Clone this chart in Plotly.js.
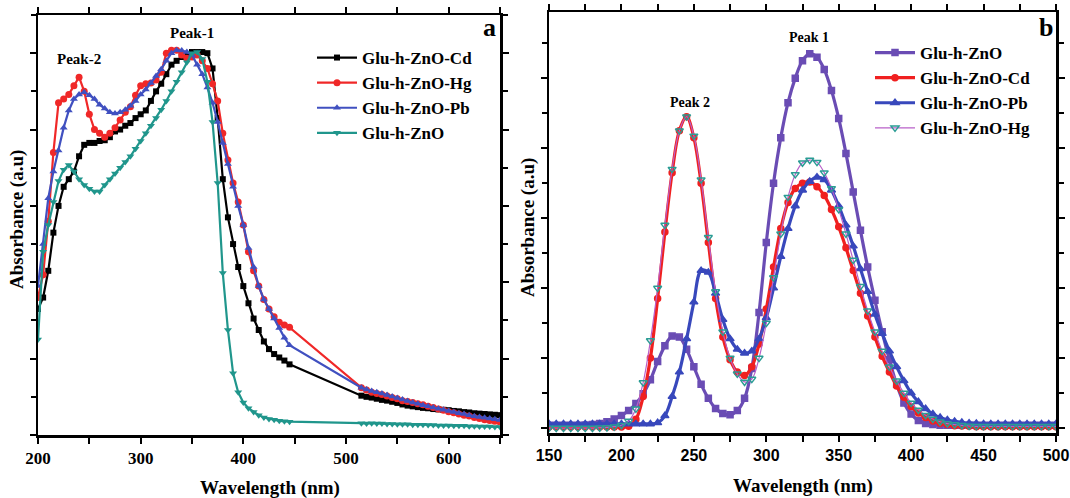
<!DOCTYPE html>
<html>
<head>
<meta charset="utf-8">
<script src="https://cdn.plot.ly/plotly-3.0.1.min.js"></script>
<style>
  html, body { margin: 0; padding: 0; background: #fff; }
  #chart { width: 1070px; height: 498px; }
</style>
</head>
<body>
<div id="chart"></div>
<script>
// ---- (a) UV-vis absorbance spectra, wavelength in nm ----
const wlA = [200,205,210,215,220,225,230,235,240,245,250,255,260,265,270,275,280,285,290,295,
             300,305,310,315,320,325,330,335,340,345,350,355,360,365,370,375,380,385,390,395,
             400,405,410,415,420,425,430,435,440,445,
             515,520,525,530,535,540,545,550,555,560,565,570,575,580,585,590,595,600,605,610,
             615,620,625,630,635,640,645,650];

const absA_Cd = [3.3,3.6,4.3,5.3,6.0,6.5,6.7,6.9,7.3,7.6,
                 7.65,7.65,7.7,7.72,7.8,7.95,8.0,8.1,8.17,8.3,
                 8.4,8.5,8.75,9.0,9.2,9.45,9.7,9.8,9.9,9.97,
                 10.03,10.03,10.03,10.0,9.6,8.3,6.7,5.7,5.0,4.4,
                 3.9,3.45,3.05,2.75,2.45,2.25,2.12,2.03,1.95,1.85,
                 1.03,1.0,0.98,0.95,0.92,0.9,0.87,0.84,0.8,0.77,
                 0.75,0.73,0.71,0.7,0.68,0.67,0.66,0.65,0.63,0.62,
                 0.6,0.59,0.57,0.56,0.55,0.54,0.53,0.52];

const absA_Hg = [3.6,4.2,5.6,7.4,8.7,8.8,8.92,9.15,9.37,9.0,
                 8.4,8.0,7.9,7.8,7.9,8.05,8.25,8.45,8.6,8.9,
                 9.15,9.2,9.22,9.3,9.5,10.0,10.08,10.08,9.95,9.87,
                 9.9,9.95,9.8,9.6,9.2,8.75,7.9,7.2,6.6,6.1,
                 5.5,4.8,4.3,3.9,3.55,3.3,3.1,2.95,2.88,2.82,
                 1.24,1.18,1.12,1.09,1.06,1.02,0.98,0.95,0.9,0.88,
                 0.85,0.82,0.79,0.75,0.72,0.68,0.65,0.61,0.58,0.55,
                 0.52,0.5,0.46,0.43,0.4,0.38,0.36,0.34];

const absA_Pb = [3.9,5.0,6.2,6.9,7.45,8.05,8.5,8.8,8.92,8.98,
                 8.9,8.8,8.65,8.55,8.45,8.42,8.45,8.52,8.62,8.75,
                 8.92,9.05,9.22,9.4,9.58,9.8,10.0,10.08,10.07,10.03,
                 9.95,9.7,9.45,9.1,8.7,8.2,7.65,7.1,6.5,6.0,
                 5.5,4.9,4.4,3.9,3.55,3.3,3.05,2.8,2.55,2.35,
                 1.24,1.19,1.15,1.12,1.09,1.05,1.01,0.97,0.93,0.89,
                 0.85,0.82,0.78,0.75,0.72,0.69,0.66,0.63,0.6,0.57,
                 0.55,0.52,0.49,0.47,0.45,0.43,0.41,0.39];

const absA_ZnO = [2.5,4.8,5.5,6.1,6.65,6.95,7.07,6.9,6.7,6.55,
                  6.45,6.38,6.38,6.55,6.7,6.85,7.0,7.15,7.3,7.5,
                  7.7,7.9,8.1,8.3,8.52,8.75,9.0,9.25,9.5,9.76,
                  10.0,10.03,9.85,9.25,8.2,6.6,4.24,2.75,1.62,1.12,
                  0.85,0.7,0.6,0.52,0.46,0.42,0.4,0.37,0.36,0.35,
                  0.31,0.3,0.31,0.3,0.3,0.29,0.29,0.28,0.28,0.28,
                  0.27,0.27,0.27,0.26,0.26,0.25,0.25,0.25,0.24,0.24,
                  0.24,0.23,0.23,0.22,0.22,0.22,0.21,0.21];

// ---- (b) fitted absorbance bands ----
const wlB = [150,155,160,165,170,175,180,185,190,195,
             200,205,210,215,220,225,230,235,240,245,
             250,255,260,265,270,275,280,285,290,295,
             300,305,310,315,320,325,330,335,340,345,
             350,355,360,365,370,375,380,385,390,395,
             400,405,410,415,420,425,430,435,440,445,
             450,455,460,465,470,475,480,485,490,495,500];

const absB_ZnO = [0.08,0.08,0.08,0.08,0.08,0.09,0.1,0.13,0.18,0.26,
                  0.36,0.5,0.7,0.98,1.38,1.9,2.35,2.63,2.6,2.25,
                  1.75,1.25,0.85,0.56,0.42,0.38,0.5,0.85,1.7,3.3,
                  5.3,7.0,8.3,9.3,10.0,10.5,10.7,10.6,10.25,9.65,
                  8.85,7.85,6.75,5.65,4.6,3.65,2.75,1.95,1.25,0.72,
                  0.4,0.22,0.13,0.1,0.08,0.08,0.08,0.08,0.08,0.08,
                  0.08,0.08,0.08,0.08,0.08,0.08,0.08,0.08,0.08,0.08,0.08];

const absB_Cd = [0.03,0.03,0.03,0.03,0.03,0.03,0.03,0.03,0.03,0.03,
                 0.03,0.05,0.25,0.9,2.0,3.7,5.6,7.3,8.5,8.9,
                 8.3,7.0,5.3,3.7,2.6,1.95,1.6,1.5,1.75,2.4,
                 3.4,4.6,5.7,6.45,6.85,7.0,7.03,6.9,6.65,6.25,
                 5.75,5.15,4.5,3.85,3.2,2.6,2.05,1.6,1.2,0.88,
                 0.62,0.43,0.3,0.2,0.14,0.1,0.07,0.06,0.05,0.04,
                 0.04,0.04,0.04,0.04,0.04,0.04,0.04,0.04,0.04,0.04,0.04];

const absB_Pb = [0.12,0.12,0.12,0.12,0.12,0.12,0.12,0.12,0.12,0.12,
                 0.12,0.12,0.12,0.12,0.12,0.15,0.35,0.9,1.6,2.55,
                 3.6,4.5,4.45,3.85,3.1,2.55,2.25,2.14,2.2,2.55,
                 3.15,4.0,4.9,5.7,6.35,6.8,7.05,7.17,7.1,6.8,
                 6.35,5.8,5.2,4.55,3.9,3.25,2.7,2.2,1.75,1.35,
                 1.0,0.75,0.55,0.4,0.3,0.23,0.19,0.16,0.14,0.13,
                 0.12,0.12,0.12,0.12,0.12,0.12,0.12,0.12,0.12,0.12,0.12];

const absB_Hg = [0.0,0.0,0.0,0.0,0.0,0.0,0.0,0.01,0.02,0.04,
                 0.08,0.2,0.55,1.3,2.5,4.0,5.8,7.4,8.5,8.9,
                 8.35,7.1,5.45,3.9,2.75,2.0,1.55,1.32,1.4,2.0,
                 3.0,4.3,5.55,6.6,7.25,7.58,7.66,7.6,7.3,6.85,
                 6.25,5.55,4.8,4.05,3.35,2.75,2.2,1.75,1.35,1.0,
                 0.72,0.52,0.37,0.26,0.18,0.13,0.1,0.08,0.06,0.05,
                 0.05,0.05,0.05,0.05,0.05,0.05,0.05,0.05,0.05,0.05,0.05];

const namesA = ['Glu-h-ZnO-Cd', 'Glu-h-ZnO-Hg', 'Glu-h-ZnO-Pb', 'Glu-h-ZnO'];
const namesB = ['Glu-h-ZnO', 'Glu-h-ZnO-Cd', 'Glu-h-ZnO-Pb', 'Glu-h-ZnO-Hg'];
const axisTitleX = 'Wavelength (nm)';
const axisTitleY = 'Absorbance (a.u)';

const SERIF = 'Liberation Serif, Times New Roman, serif';
const SANS = 'Liberation Sans, Arial, sans-serif';

function seriesA(name, y, color, symbol, size) {
  return {
    type: 'scatter', mode: 'lines+markers', name: name, x: wlA, y: y,
    xaxis: 'x', yaxis: 'y', legend: 'legend',
    line: { color: color, width: 2.2 },
    marker: { symbol: symbol, size: size, color: color }
  };
}
function seriesB(name, y, lineColor, markerColor, symbol, size, lw) {
  return {
    type: 'scatter', mode: 'lines+markers', name: name, x: wlB, y: y,
    xaxis: 'x2', yaxis: 'y2', legend: 'legend2',
    line: { color: lineColor, width: lw, shape: 'spline' },
    marker: { symbol: symbol, size: size, color: markerColor, line: { color: markerColor, width: 1.5 } }
  };
}

const traces = [
  seriesA(namesA[0], absA_Cd, '#000000', 'square', 6),
  seriesA(namesA[1], absA_Hg, '#f02828', 'circle', 7),
  seriesA(namesA[2], absA_Pb, '#4050c0', 'triangle-up', 7),
  seriesA(namesA[3], absA_ZnO, '#20968c', 'triangle-down', 7),
  seriesB(namesB[0], absB_ZnO, '#6a4cb4', '#6a4cb4', 'square', 6, 3.2),
  seriesB(namesB[1], absB_Cd, '#f02020', '#f02020', 'circle', 6, 3.2),
  seriesB(namesB[2], absB_Pb, '#3848bc', '#3848bc', 'triangle-up', 7, 3.2),
  seriesB(namesB[3], absB_Hg, '#b860c8', '#2a9c94', 'triangle-down-open', 7, 1.2)
];

const W = 1070, H = 498;
const px = v => v / W;
const py = v => 1 - v / H;

// boxed frame: ticks on the bottom/left, repeated on the top/right spines
const boxAxis = {
  showline: true, linecolor: '#000', linewidth: 2.5, mirror: 'ticks',
  showgrid: false, zeroline: false, ticks: 'outside', tickcolor: '#000',
  tickwidth: 2, ticklen: 6
};

const layout = {
  width: W, height: H,
  margin: { l: 0, r: 0, t: 0, b: 0 },
  paper_bgcolor: '#fff', plot_bgcolor: '#fff',
  showlegend: true,
  // panel (a)
  xaxis: Object.assign({}, boxAxis, {
    domain: [px(38), px(500)], anchor: 'y', range: [200, 650],
    tick0: 200, dtick: 100,
    minor: { dtick: 50, ticks: 'outside', ticklen: 6, tickwidth: 2, tickcolor: '#000' },
    tickfont: { family: SERIF, size: 17, weight: 'bold', color: '#000' }
  }),
  yaxis: Object.assign({}, boxAxis, {
    domain: [py(435), py(15)], anchor: 'x', range: [0, 11],
    tick0: 0, dtick: 2, showticklabels: false,
    minor: { dtick: 1, ticks: 'outside', ticklen: 5, tickwidth: 2, tickcolor: '#000' }
  }),
  // panel (b)
  xaxis2: Object.assign({}, boxAxis, {
    domain: [px(549), px(1056)], anchor: 'y2', range: [150, 500],
    tick0: 150, dtick: 50,
    minor: { dtick: 25, ticks: 'outside', ticklen: 6, tickwidth: 2, tickcolor: '#000' },
    tickfont: { family: SANS, size: 16, weight: 'bold', color: '#000' }
  }),
  yaxis2: Object.assign({}, boxAxis, {
    domain: [py(433), py(12)], anchor: 'x2', range: [-0.14, 11.89],
    tick0: 0, dtick: 2, showticklabels: false,
    minor: { dtick: 1, ticks: 'outside', ticklen: 5, tickwidth: 2, tickcolor: '#000' }
  }),
  legend: {
    x: px(312), y: py(40), xanchor: 'left', yanchor: 'top',
    bgcolor: 'rgba(0,0,0,0)', borderwidth: 0, itemwidth: 40,
    font: { family: SERIF, size: 17, weight: 'bold', color: '#000' }
  },
  legend2: {
    x: px(870), y: py(35), xanchor: 'left', yanchor: 'top',
    bgcolor: 'rgba(0,0,0,0)', borderwidth: 0, itemwidth: 40,
    font: { family: SERIF, size: 17, weight: 'bold', color: '#000' }
  },
  annotations: [
    { text: 'Peak-2', x: px(79), y: py(59) },
    { text: 'Peak-1', x: px(192), y: py(33) },
    { text: 'a', x: px(489), y: py(27), size: 26 },
    { text: 'Peak 2', x: px(690), y: py(102), size: 14 },
    { text: 'Peak 1', x: px(809), y: py(37), size: 14 },
    { text: 'b', x: px(1046), y: py(27), size: 26 },
    { text: axisTitleX, x: px(270), y: py(488), size: 19 },
    { text: axisTitleX, x: px(803), y: py(486), size: 19 },
    { text: axisTitleY, x: px(17), y: py(220), size: 19, angle: -90 },
    { text: axisTitleY, x: px(528), y: py(228), size: 19, angle: -90 }
  ].map(a => ({
    text: a.text, x: a.x, y: a.y, xref: 'paper', yref: 'paper',
    xanchor: 'center', yanchor: 'middle', showarrow: false, textangle: a.angle || 0,
    font: { family: SERIF, size: a.size || 15, weight: 'bold', color: '#000' }
  }))
};

Plotly.newPlot('chart', traces, layout, { displayModeBar: false, staticPlot: true });
</script>
</body>
</html>
